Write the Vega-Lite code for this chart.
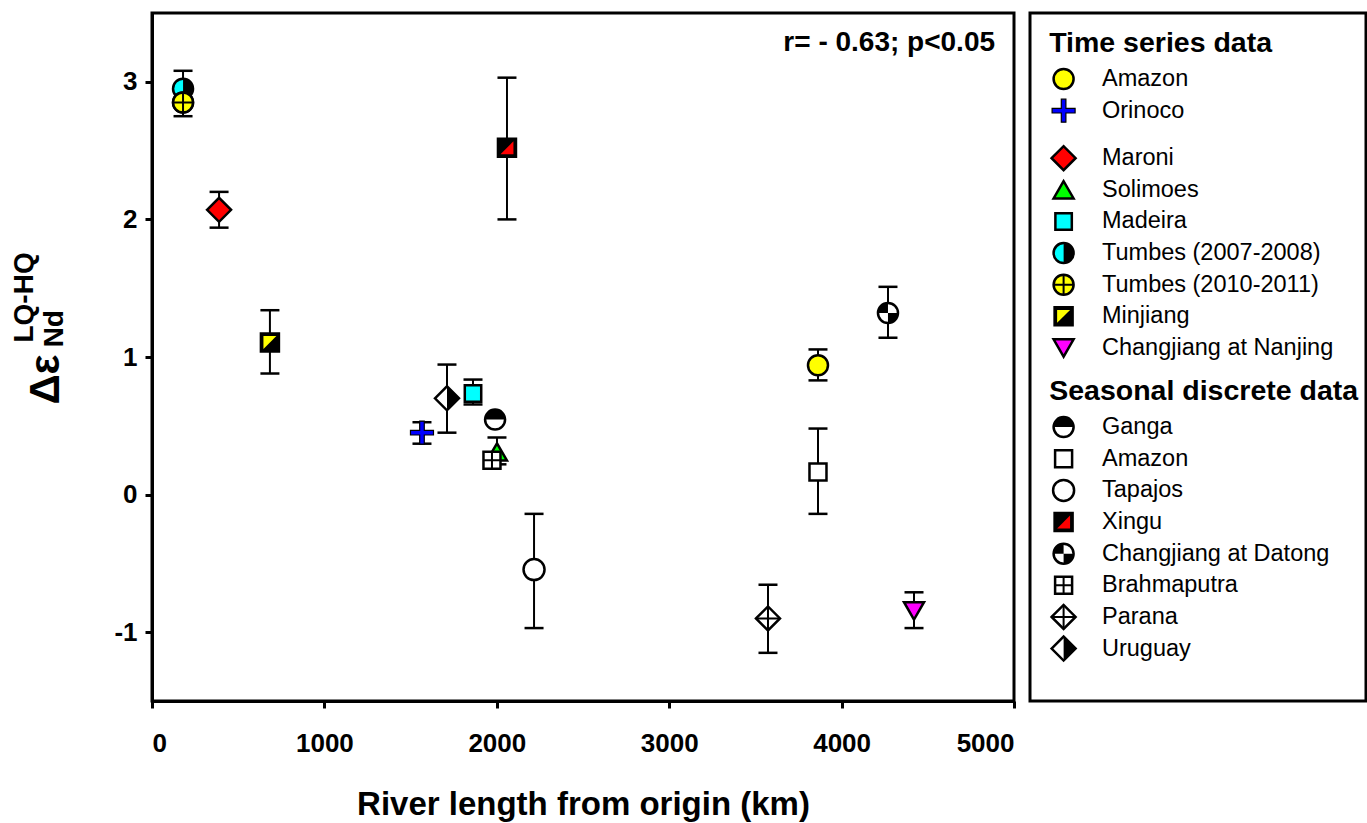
{
  "$schema": "https://vega.github.io/schema/vega-lite/v6.json",
  "padding": {"left": 9, "top": 11, "right": 0, "bottom": 0},
  "background": "white",
  "config": {
    "font": "Liberation Sans",
    "view": {"stroke": "black", "strokeWidth": 3},
    "axis": {"domainColor": "black", "domainWidth": 3, "tickColor": "black", "tickWidth": 3, "tickSize": 7, "labelFont": "Liberation Sans", "labelFontSize": 26, "labelFontWeight": "bold", "labelColor": "black", "titleFont": "Liberation Sans", "titleColor": "black", "titleFontWeight": "bold", "grid": false},
    "axisX": {"labelPadding": 22, "titleFontSize": 33, "titlePadding": 32},
    "axisY": {"labelPadding": 8, "titleFontSize": 42, "titleAngle": 270, "titleX": -94, "titleY": 366, "titleBaseline": "alphabetic", "titleAlign": "center"}
  },
  "datasets": {
    "points": [
      {"series": "Tumbes (2007-2008)", "label": "Tumbes (2007-2008)", "length": 180, "delta": 2.95, "lo": 2.82, "hi": 3.08},
      {"series": "Tumbes (2010-2011)", "label": "Tumbes (2010-2011)", "length": 180, "delta": 2.85, "lo": 2.75, "hi": 2.95},
      {"series": "Maroni", "label": "Maroni", "length": 389, "delta": 2.07, "lo": 1.94, "hi": 2.20},
      {"series": "Minjiang", "label": "Minjiang", "length": 684, "delta": 1.105, "lo": 0.88, "hi": 1.34},
      {"series": "Orinoco", "label": "Orinoco", "length": 1566, "delta": 0.45, "lo": 0.37, "hi": 0.526},
      {"series": "Uruguay", "label": "Uruguay", "length": 1711, "delta": 0.70, "lo": 0.45, "hi": 0.945},
      {"series": "Madeira", "label": "Madeira", "length": 1862, "delta": 0.735, "lo": 0.655, "hi": 0.836},
      {"series": "Ganga", "label": "Ganga", "length": 1990, "delta": 0.545, "lo": null, "hi": null},
      {"series": "Solimoes", "label": "Solimoes", "length": 2001, "delta": 0.31, "lo": 0.22, "hi": 0.415},
      {"series": "Brahmaputra", "label": "Brahmaputra", "length": 1972, "delta": 0.25, "lo": null, "hi": null},
      {"series": "Xingu", "label": "Xingu", "length": 2059, "delta": 2.52, "lo": 2.00, "hi": 3.03},
      {"series": "Tapajos", "label": "Tapajos", "length": 2216, "delta": -0.545, "lo": -0.97, "hi": -0.14},
      {"series": "Parana", "label": "Parana", "length": 3573, "delta": -0.90, "lo": -1.15, "hi": -0.655},
      {"series": "Amazon (seasonal)", "label": "Amazon", "length": 3863, "delta": 0.165, "lo": -0.14, "hi": 0.48},
      {"series": "Amazon (time series)", "label": "Amazon", "length": 3863, "delta": 0.94, "lo": 0.83, "hi": 1.055},
      {"series": "Changjiang at Datong", "label": "Changjiang at Datong", "length": 4269, "delta": 1.32, "lo": 1.14, "hi": 1.51},
      {"series": "Changjiang at Nanjing", "label": "Changjiang at Nanjing", "length": 4420, "delta": -0.845, "lo": -0.97, "hi": -0.71}
    ],
    "headers": [
      {"series": "Time series data"},
      {"series": "Seasonal discrete data"}
    ]
  },
  "spacing": 16,
  "bounds": "flush",
  "hconcat": [
    {
      "width": 862,
      "height": 688,
      "data": {"name": "points"},
      "layer": [
        {
          "mark": {"type": "rule", "color": "black", "strokeWidth": 2},
          "encoding": {
            "x": {"field": "length", "type": "quantitative", "title": "River length from origin (km)", "scale": {"domain": [0, 5000], "nice": false, "zero": false}, "axis": {"values": [0, 1000, 2000, 3000, 4000, 5000], "format": "d"}},
            "y": {"field": "lo", "type": "quantitative", "title": "Δε", "scale": {"domain": [-1.5, 3.5], "nice": false, "zero": false}, "axis": {"values": [-1, 0, 1, 2, 3], "labelExpr": "'' + datum.value"}},
            "y2": {"field": "hi"}
          }
        },
        {
          "mark": {"type": "tick", "orient": "horizontal", "size": 19, "thickness": 2.5, "color": "black", "opacity": 1},
          "encoding": {
            "x": {"field": "length", "type": "quantitative", "title": "River length from origin (km)"},
            "y": {"field": "hi", "type": "quantitative", "title": "Δε"}
          }
        },
        {
          "mark": {"type": "tick", "orient": "horizontal", "size": 19, "thickness": 2.5, "color": "black", "opacity": 1},
          "encoding": {
            "x": {"field": "length", "type": "quantitative", "title": "River length from origin (km)"},
            "y": {"field": "lo", "type": "quantitative", "title": "Δε"}
          }
        },
        {
          "mark": {"type": "point", "filled": true, "stroke": "black", "opacity": 1},
          "encoding": {
            "x": {"field": "length", "type": "quantitative", "title": "River length from origin (km)"},
            "y": {"field": "delta", "type": "quantitative", "title": "Δε"},
            "shape": {"field": "series", "type": "nominal", "legend": null, "scale": {"domain": ["Amazon (time series)", "Orinoco", "Maroni", "Solimoes", "Madeira", "Tumbes (2007-2008)", "Tumbes (2010-2011)", "Minjiang", "Changjiang at Nanjing", "Ganga", "Amazon (seasonal)", "Tapajos", "Xingu", "Changjiang at Datong", "Brahmaputra", "Parana", "Uruguay"], "range": ["circle", "M-0.2,-1L0.2,-1L0.2,-0.2L1,-0.2L1,0.2L0.2,0.2L0.2,1L-0.2,1L-0.2,0.2L-1,0.2L-1,-0.2L-0.2,-0.2Z", "diamond", "triangle-up", "square", "circle", "circle", "square", "triangle-down", "circle", "square", "circle", "square", "circle", "square", "diamond", "diamond"]}},
            "fill": {"field": "series", "type": "nominal", "legend": null, "scale": {"domain": ["Amazon (time series)", "Orinoco", "Maroni", "Solimoes", "Madeira", "Tumbes (2007-2008)", "Tumbes (2010-2011)", "Minjiang", "Changjiang at Nanjing", "Ganga", "Amazon (seasonal)", "Tapajos", "Xingu", "Changjiang at Datong", "Brahmaputra", "Parana", "Uruguay"], "range": ["#ffff00", "#0000ff", "#ff0000", "#00ff00", "#00ffff", "#00ffff", "#ffff00", "#000000", "#ff00ff", "#ffffff", "#ffffff", "#ffffff", "#000000", "#ffffff", "#ffffff", "#ffffff", "#ffffff"]}},
            "size": {"field": "series", "type": "nominal", "legend": null, "scale": {"type": "ordinal", "domain": ["Amazon (time series)", "Orinoco", "Maroni", "Solimoes", "Madeira", "Tumbes (2007-2008)", "Tumbes (2010-2011)", "Minjiang", "Changjiang at Nanjing", "Ganga", "Amazon (seasonal)", "Tapajos", "Xingu", "Changjiang at Datong", "Brahmaputra", "Parana", "Uruguay"], "range": [400, 529, 576, 400, 270, 400, 400, 324, 400, 400, 289, 441, 324, 400, 289, 576, 576]}},
            "strokeWidth": {"condition": {"test": "datum.series === 'Orinoco'", "value": 1.2}, "value": 2.5}
          }
        },
        {
          "transform": [{"filter": {"field": "series", "oneOf": ["Tumbes (2007-2008)", "Minjiang", "Ganga", "Xingu", "Changjiang at Datong", "Uruguay"]}}],
          "mark": {"type": "point", "filled": true, "strokeWidth": 0, "opacity": 1},
          "encoding": {
            "x": {"field": "length", "type": "quantitative", "title": "River length from origin (km)"},
            "y": {"field": "delta", "type": "quantitative", "title": "Δε"},
            "shape": {"field": "series", "type": "nominal", "legend": null, "scale": {"domain": ["Tumbes (2007-2008)", "Minjiang", "Ganga", "Xingu", "Changjiang at Datong", "Uruguay"], "range": ["M0,-1A1,1,0,0,1,0,1Z", "M-0.72,-0.72L0.72,-0.72L-0.72,0.72Z", "M-1,0A1,1,0,0,1,1,0Z", "M0.72,-0.72L0.72,0.72L-0.72,0.72Z", "M0,0L-1,0A1,1,0,0,1,0,-1ZM0,0L1,0A1,1,0,0,1,0,1Z", "M0,-1L1,0L0,1Z"]}},
            "fill": {"field": "series", "type": "nominal", "legend": null, "scale": {"domain": ["Tumbes (2007-2008)", "Minjiang", "Ganga", "Xingu", "Changjiang at Datong", "Uruguay"], "range": ["#000000", "#ffff00", "#000000", "#ff0000", "#000000", "#000000"]}},
            "size": {"field": "series", "type": "nominal", "legend": null, "scale": {"type": "ordinal", "domain": ["Tumbes (2007-2008)", "Minjiang", "Ganga", "Xingu", "Changjiang at Datong", "Uruguay"], "range": [400, 324, 400, 324, 400, 576]}}
          }
        },
        {
          "transform": [{"filter": {"field": "series", "oneOf": ["Tumbes (2010-2011)", "Brahmaputra", "Parana"]}}],
          "mark": {"type": "point", "filled": false, "stroke": "black", "strokeWidth": 2, "opacity": 1},
          "encoding": {
            "x": {"field": "length", "type": "quantitative", "title": "River length from origin (km)"},
            "y": {"field": "delta", "type": "quantitative", "title": "Δε"},
            "shape": {"field": "series", "type": "nominal", "legend": null, "scale": {"domain": ["Tumbes (2010-2011)", "Brahmaputra", "Parana"], "range": ["M0,-1L0,1M-1,0L1,0", "M0,-1L0,1M-1,0L1,0", "M0,-1L0,1M-1,0L1,0"]}},
            "size": {"field": "series", "type": "nominal", "legend": null, "scale": {"type": "ordinal", "domain": ["Tumbes (2010-2011)", "Brahmaputra", "Parana"], "range": [400, 289, 576]}}
          }
        },
        {
          "transform": [{"filter": {"field": "series", "equal": "Tumbes (2010-2011)"}}],
          "mark": {"type": "point", "filled": true, "stroke": "black", "strokeWidth": 2.5, "opacity": 1, "shape": "circle", "size": 400, "fill": "#ffff00"},
          "encoding": {
            "x": {"field": "length", "type": "quantitative", "title": "River length from origin (km)"},
            "y": {"field": "delta", "type": "quantitative", "title": "Δε"}
          }
        },
        {
          "transform": [{"filter": {"field": "series", "equal": "Tumbes (2010-2011)"}}],
          "mark": {"type": "point", "filled": false, "stroke": "black", "strokeWidth": 2, "opacity": 1, "shape": "M0,-1L0,1M-1,0L1,0", "size": 400},
          "encoding": {
            "x": {"field": "length", "type": "quantitative", "title": "River length from origin (km)"},
            "y": {"field": "delta", "type": "quantitative", "title": "Δε"}
          }
        },
        {
          "data": {"values": [{"note": "r= - 0.63; p<0.05"}]},
          "mark": {"type": "text", "align": "right", "baseline": "middle", "fontSize": 28, "fontWeight": "bold", "color": "black"},
          "encoding": {
            "x": {"datum": 4890, "type": "quantitative", "title": "River length from origin (km)"},
            "y": {"datum": 3.28, "type": "quantitative", "title": "Δε"},
            "text": {"field": "note"}
          }
        },
        {
          "data": {"values": [{"t": "LQ-HQ"}]},
          "mark": {"type": "text", "angle": 270, "align": "left", "baseline": "alphabetic", "fontSize": 28, "fontWeight": "bold", "color": "black"},
          "encoding": {
            "x": {"datum": -690, "type": "quantitative", "title": "River length from origin (km)"},
            "y": {"datum": 1.105, "type": "quantitative", "title": "Δε"},
            "text": {"field": "t"}
          }
        },
        {
          "data": {"values": [{"t": "Nd"}]},
          "mark": {"type": "text", "angle": 270, "align": "left", "baseline": "alphabetic", "fontSize": 28, "fontWeight": "bold", "color": "black"},
          "encoding": {
            "x": {"datum": -516, "type": "quantitative", "title": "River length from origin (km)"},
            "y": {"datum": 1.07, "type": "quantitative", "title": "Δε"},
            "text": {"field": "t"}
          }
        }
      ],
      "resolve": {"scale": {"shape": "independent", "fill": "independent", "size": "independent"}}
    },
    {
      "width": 336,
      "height": 688,
      "layer": [
        {
          "data": {"name": "headers"},
          "mark": {"type": "text", "align": "left", "baseline": "middle", "dy": -4, "fontSize": 28.5, "fontWeight": "bold", "color": "black"},
          "encoding": {
            "x": {"datum": 20, "type": "quantitative", "scale": {"domain": [0, 336]}, "axis": null},
            "y": {"field": "series", "type": "nominal", "axis": null, "scale": {"type": "point", "padding": 0, "range": [34.4, 635.6], "domain": ["Time series data", "_1", "Amazon (time series)", "_2", "Orinoco", "_3", "_4", "Maroni", "_5", "Solimoes", "_6", "Madeira", "_7", "Tumbes (2007-2008)", "_8", "Tumbes (2010-2011)", "_9", "Minjiang", "_10", "Changjiang at Nanjing", "_11", "_12", "Seasonal discrete data", "_13", "Ganga", "_14", "Amazon (seasonal)", "_15", "Tapajos", "_16", "Xingu", "_17", "Changjiang at Datong", "_18", "Brahmaputra", "_19", "Parana", "_20", "Uruguay"]}},
            "text": {"field": "series"}
          }
        },
        {
          "data": {"name": "points"},
          "mark": {"type": "point", "filled": true, "stroke": "black", "opacity": 1},
          "encoding": {
            "x": {"datum": 35, "type": "quantitative"},
            "y": {"field": "series", "type": "nominal"},
            "shape": {"field": "series", "type": "nominal", "legend": null, "scale": {"domain": ["Amazon (time series)", "Orinoco", "Maroni", "Solimoes", "Madeira", "Tumbes (2007-2008)", "Tumbes (2010-2011)", "Minjiang", "Changjiang at Nanjing", "Ganga", "Amazon (seasonal)", "Tapajos", "Xingu", "Changjiang at Datong", "Brahmaputra", "Parana", "Uruguay"], "range": ["circle", "M-0.2,-1L0.2,-1L0.2,-0.2L1,-0.2L1,0.2L0.2,0.2L0.2,1L-0.2,1L-0.2,0.2L-1,0.2L-1,-0.2L-0.2,-0.2Z", "diamond", "triangle-up", "square", "circle", "circle", "square", "triangle-down", "circle", "square", "circle", "square", "circle", "square", "diamond", "diamond"]}},
            "fill": {"field": "series", "type": "nominal", "legend": null, "scale": {"domain": ["Amazon (time series)", "Orinoco", "Maroni", "Solimoes", "Madeira", "Tumbes (2007-2008)", "Tumbes (2010-2011)", "Minjiang", "Changjiang at Nanjing", "Ganga", "Amazon (seasonal)", "Tapajos", "Xingu", "Changjiang at Datong", "Brahmaputra", "Parana", "Uruguay"], "range": ["#ffff00", "#0000ff", "#ff0000", "#00ff00", "#00ffff", "#00ffff", "#ffff00", "#000000", "#ff00ff", "#ffffff", "#ffffff", "#ffffff", "#000000", "#ffffff", "#ffffff", "#ffffff", "#ffffff"]}},
            "size": {"field": "series", "type": "nominal", "legend": null, "scale": {"type": "ordinal", "domain": ["Amazon (time series)", "Orinoco", "Maroni", "Solimoes", "Madeira", "Tumbes (2007-2008)", "Tumbes (2010-2011)", "Minjiang", "Changjiang at Nanjing", "Ganga", "Amazon (seasonal)", "Tapajos", "Xingu", "Changjiang at Datong", "Brahmaputra", "Parana", "Uruguay"], "range": [400, 529, 576, 400, 270, 400, 400, 324, 400, 400, 289, 441, 324, 400, 289, 576, 576]}},
            "strokeWidth": {"condition": {"test": "datum.series === 'Orinoco'", "value": 1.2}, "value": 2.5}
          }
        },
        {
          "data": {"name": "points"},
          "transform": [{"filter": {"field": "series", "oneOf": ["Tumbes (2007-2008)", "Minjiang", "Ganga", "Xingu", "Changjiang at Datong", "Uruguay"]}}],
          "mark": {"type": "point", "filled": true, "strokeWidth": 0, "opacity": 1},
          "encoding": {
            "x": {"datum": 35, "type": "quantitative"},
            "y": {"field": "series", "type": "nominal"},
            "shape": {"field": "series", "type": "nominal", "legend": null, "scale": {"domain": ["Tumbes (2007-2008)", "Minjiang", "Ganga", "Xingu", "Changjiang at Datong", "Uruguay"], "range": ["M0,-1A1,1,0,0,1,0,1Z", "M-0.72,-0.72L0.72,-0.72L-0.72,0.72Z", "M-1,0A1,1,0,0,1,1,0Z", "M0.72,-0.72L0.72,0.72L-0.72,0.72Z", "M0,0L-1,0A1,1,0,0,1,0,-1ZM0,0L1,0A1,1,0,0,1,0,1Z", "M0,-1L1,0L0,1Z"]}},
            "fill": {"field": "series", "type": "nominal", "legend": null, "scale": {"domain": ["Tumbes (2007-2008)", "Minjiang", "Ganga", "Xingu", "Changjiang at Datong", "Uruguay"], "range": ["#000000", "#ffff00", "#000000", "#ff0000", "#000000", "#000000"]}},
            "size": {"field": "series", "type": "nominal", "legend": null, "scale": {"type": "ordinal", "domain": ["Tumbes (2007-2008)", "Minjiang", "Ganga", "Xingu", "Changjiang at Datong", "Uruguay"], "range": [400, 324, 400, 324, 400, 576]}}
          }
        },
        {
          "data": {"name": "points"},
          "transform": [{"filter": {"field": "series", "oneOf": ["Tumbes (2010-2011)", "Brahmaputra", "Parana"]}}],
          "mark": {"type": "point", "filled": false, "stroke": "black", "strokeWidth": 2, "opacity": 1},
          "encoding": {
            "x": {"datum": 35, "type": "quantitative"},
            "y": {"field": "series", "type": "nominal"},
            "shape": {"field": "series", "type": "nominal", "legend": null, "scale": {"domain": ["Tumbes (2010-2011)", "Brahmaputra", "Parana"], "range": ["M0,-1L0,1M-1,0L1,0", "M0,-1L0,1M-1,0L1,0", "M0,-1L0,1M-1,0L1,0"]}},
            "size": {"field": "series", "type": "nominal", "legend": null, "scale": {"type": "ordinal", "domain": ["Tumbes (2010-2011)", "Brahmaputra", "Parana"], "range": [400, 289, 576]}}
          }
        },
        {
          "data": {"name": "points"},
          "mark": {"type": "text", "align": "left", "baseline": "middle", "fontSize": 23.5, "color": "black"},
          "encoding": {
            "x": {"datum": 75, "type": "quantitative"},
            "y": {"field": "series", "type": "nominal"},
            "text": {"field": "label"}
          }
        }
      ],
      "resolve": {"scale": {"shape": "independent", "fill": "independent", "size": "independent"}}
    }
  ]
}
